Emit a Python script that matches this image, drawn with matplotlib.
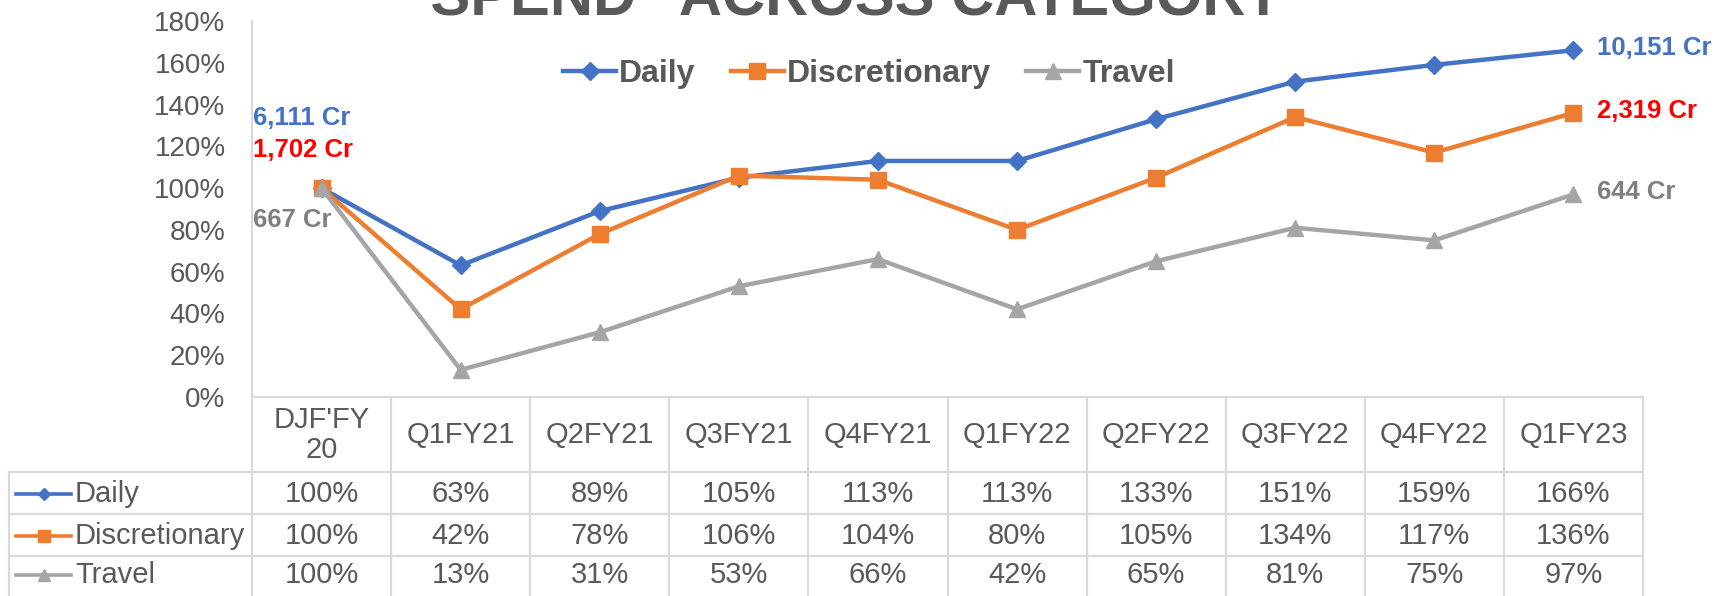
import matplotlib
matplotlib.use('Agg')
import matplotlib.pyplot as plt
from matplotlib.transforms import blended_transform_factory
from matplotlib.ticker import PercentFormatter

plt.rcParams['font.family'] = ['Liberation Sans', 'DejaVu Sans']

# quarters and spend index (share of DJF'FY20 level)
quarters = ["DJF'FY\n20", 'Q1FY21', 'Q2FY21', 'Q3FY21', 'Q4FY21',
            'Q1FY22', 'Q2FY22', 'Q3FY22', 'Q4FY22', 'Q1FY23']
daily = [100, 63, 89, 105, 113, 113, 133, 151, 159, 166]
discretionary = [100, 42, 78, 106, 104, 80, 105, 134, 117, 136]
travel = [100, 13, 31, 53, 66, 42, 65, 81, 75, 97]

series_names = ['Daily', 'Discretionary', 'Travel']
start_labels = ['6,111 Cr', '1,702 Cr', '667 Cr']
end_labels = ['10,151 Cr', '2,319 Cr', '644 Cr']

colors = ['#4472C4', '#ED7D31', '#A5A5A5']
label_colors = ['#4472C4', '#FF0000', '#7F7F7F']
markers = ['D', 's', '^']
msizes = [9, 11, 12]
text_grey = '#595959'
grid_grey = '#D9D9D9'

W, H = 1721, 596
fig = plt.figure(figsize=(W / 100, H / 100), dpi=100)
ax = fig.add_axes([252 / W, 1 - 397 / H, (1643 - 252) / W, (397 - 21) / H])


def fy(px):
    return 1 - px / H


xs = [i + 0.5 for i in range(len(quarters))]
data = [daily, discretionary, travel]

handles = []
for name, vals, c, m, ms in zip(series_names, data, colors, markers, msizes):
    h, = ax.plot(xs, vals, color=c, lw=3.2, marker=m, ms=ms, label=name,
                 clip_on=False, zorder=3)
    handles.append(h)

# value labels at first and last quarter
start_offsets = [(-69, 70), (-69, 38), (-69, -32)]
for vals, lab, col, off in zip(data, start_labels, label_colors, start_offsets):
    ax.annotate(lab, xy=(xs[0], vals[0]), xytext=off, textcoords='offset pixels',
                ha='left', va='center', fontsize=18.5, fontweight='bold', color=col)
for vals, lab, col in zip(data, end_labels, label_colors):
    ax.annotate(lab, xy=(xs[-1], vals[-1]), xytext=(24, 2), textcoords='offset pixels',
                ha='left', va='center', fontsize=18.5, fontweight='bold', color=col)

ax.set_xlim(0, 10)
ax.set_ylim(0, 180)
ax.set_yticks(range(0, 181, 20))
ax.yaxis.set_major_formatter(PercentFormatter(decimals=0))
ax.set_xticks([])
ax.tick_params(axis='y', length=0, pad=19, labelsize=20, labelcolor=text_grey)
for s in ['top', 'right', 'bottom']:
    ax.spines[s].set_visible(False)
ax.spines['left'].set_color(grid_grey)
ax.spines['left'].set_linewidth(1.6)

fig.legend(handles=handles, loc='center', bbox_to_anchor=(869 / W, fy(74)),
           ncol=3, frameon=False, handlelength=1.66, handletextpad=0.1,
           columnspacing=1.1, prop={'size': 23, 'weight': 'bold'},
           labelcolor=text_grey)

# title sits mostly above the canvas
fig.text(402 / W, fy(15), '"SPEND" ACROSS CATEGORY', ha='left', va='baseline',
         fontsize=43, fontweight='bold', color=text_grey)

# data table under the chart
tr = blended_transform_factory(ax.transData, fig.transFigure)
left = (9 - 252) / 139
row_lines = [472, 514, 556]
row_mid = [494, 536, 575]

ax.plot([0, 10], [fy(397), fy(397)], color=grid_grey, lw=1.6, transform=tr, clip_on=False)
for r in row_lines:
    ax.plot([left, 10], [fy(r), fy(r)], color=grid_grey, lw=1.6, transform=tr, clip_on=False)
ax.plot([left, left], [fy(472), fy(600)], color=grid_grey, lw=1.6, transform=tr, clip_on=False)
for i in range(len(quarters) + 1):
    ax.plot([i, i], [fy(397), fy(600)], color=grid_grey, lw=1.6, transform=tr, clip_on=False)

for x, q in zip(xs, quarters):
    ax.text(x, fy(435), q, transform=tr, ha='center', va='center', fontsize=21,
            color=text_grey, linespacing=1.05)

for name, vals, c, m, y in zip(series_names, data, colors, markers, row_mid):
    ax.plot([left + 0.05, left + 0.45], [fy(y), fy(y)], color=c, lw=2.6,
            transform=tr, clip_on=False)
    ax.plot([left + 0.25], [fy(y)], color=c, marker=m, ms=8 if m != 'D' else 6.5,
            transform=tr, clip_on=False)
    ax.text(left + 0.475, fy(y), name, transform=tr, ha='left', va='center',
            fontsize=21, color=text_grey)
    for x, v in zip(xs, vals):
        ax.text(x, fy(y), f'{v}%', transform=tr, ha='center', va='center',
                fontsize=21, color=text_grey)

fig.savefig('out.png', dpi=100)
